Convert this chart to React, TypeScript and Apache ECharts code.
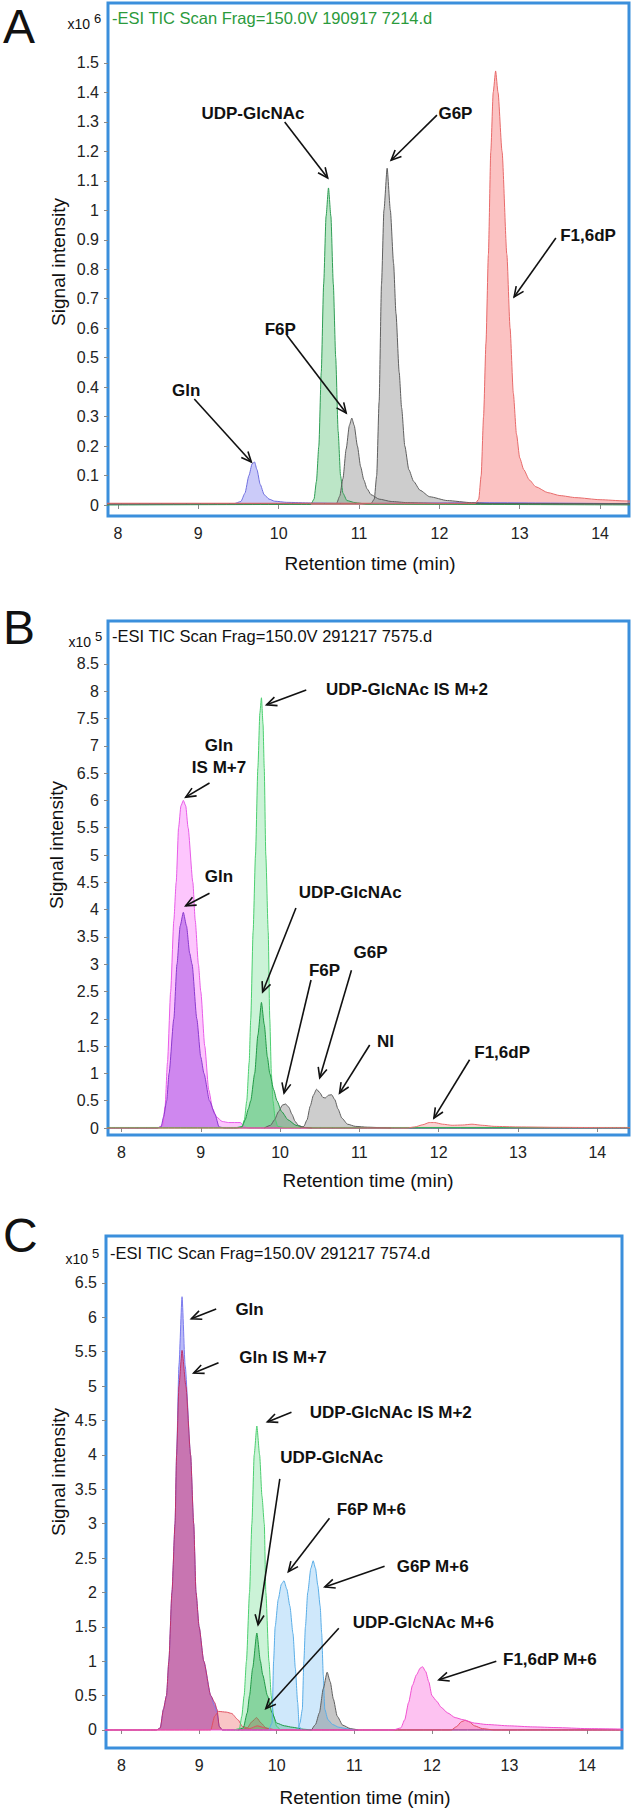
import { useEffect, useRef } from "react";
import * as echarts from "echarts";

const FONT = '"Liberation Sans", Arial, Helvetica, sans-serif';

type Pt = [number, number];

// ---------- tick labels ----------
const xTicks = [8, 9, 10, 11, 12, 13, 14];
const aTicksY = [0, 0.1, 0.2, 0.3, 0.4, 0.5, 0.6, 0.7, 0.8, 0.9, 1, 1.1, 1.2, 1.3, 1.4, 1.5];
const bTicksY = [0, 0.5, 1, 1.5, 2, 2.5, 3, 3.5, 4, 4.5, 5, 5.5, 6, 6.5, 7, 7.5, 8, 8.5];
const cTicksY = [0, 0.5, 1, 1.5, 2, 2.5, 3, 3.5, 4, 4.5, 5, 5.5, 6, 6.5];

// ---------- panel A (x10^6) ----------
const aGln: Pt[] = [[7.8,0.004],[9.45,0.005],[9.53,0.012],[9.58,0.04],[9.63,0.1],[9.67,0.14],[9.7,0.146],[9.73,0.12],[9.77,0.07],[9.82,0.035],[9.88,0.02],[9.95,0.013],[10.1,0.009],[10.4,0.007],[11.0,0.005],[12.4,0.008],[14.6,0.004]];
const aUdp: Pt[] = [[7.8,0.0],[10.4,0.002],[10.44,0.02],[10.47,0.08],[10.5,0.2],[10.53,0.45],[10.56,0.75],[10.59,0.98],[10.62,1.076],[10.65,0.98],[10.68,0.75],[10.71,0.5],[10.74,0.25],[10.77,0.1],[10.8,0.04],[10.85,0.015],[10.95,0.008],[11.1,0.003],[14.6,0.0]];
const aF6p: Pt[] = [[7.8,0.004],[10.72,0.005],[10.76,0.03],[10.8,0.09],[10.84,0.19],[10.88,0.27],[10.91,0.295],[10.94,0.27],[10.98,0.2],[11.02,0.13],[11.06,0.085],[11.1,0.055],[11.15,0.035],[11.25,0.02],[11.4,0.012],[11.6,0.008],[12.0,0.005],[14.6,0.004]];
const aG6p: Pt[] = [[7.8,0.004],[11.15,0.005],[11.19,0.02],[11.22,0.1],[11.25,0.35],[11.28,0.75],[11.31,1.0],[11.35,1.143],[11.39,1.0],[11.43,0.82],[11.46,0.65],[11.5,0.45],[11.53,0.33],[11.57,0.2],[11.62,0.12],[11.68,0.08],[11.76,0.05],[11.88,0.028],[12.1,0.015],[12.4,0.008],[12.6,0.005],[14.6,0.004]];
const aF16dp: Pt[] = [[7.8,0.006],[12.45,0.006],[12.49,0.02],[12.52,0.1],[12.55,0.3],[12.58,0.55],[12.61,0.85],[12.64,1.2],[12.67,1.4],[12.7,1.473],[12.73,1.4],[12.78,1.2],[12.84,0.85],[12.88,0.6],[12.92,0.38],[12.96,0.24],[13.0,0.16],[13.05,0.12],[13.12,0.085],[13.2,0.062],[13.35,0.042],[13.5,0.032],[13.7,0.025],[14.0,0.018],[14.3,0.014],[14.6,0.012]];

// ---------- panel B (x10^5) ----------
const bGlnIS: Pt[] = [[7.7,0],[8.45,0],[8.52,0.05],[8.55,0.4],[8.58,1.2],[8.62,2.5],[8.66,3.8],[8.69,4.5],[8.72,5.5],[8.75,5.9],[8.78,6.0],[8.81,5.9],[8.84,5.5],[8.9,4.5],[8.93,3.8],[8.97,3.0],[9.0,2.5],[9.05,1.5],[9.1,0.7],[9.15,0.35],[9.2,0.2],[9.27,0.12],[9.35,0.1],[9.5,0.1],[9.55,0.02],[9.6,0],[14.6,0]];
const bGln: Pt[] = [[7.7,0],[8.45,0],[8.5,0.02],[8.53,0.2],[8.57,0.5],[8.6,1.0],[8.66,2.0],[8.7,3.0],[8.74,3.7],[8.78,3.95],[8.82,3.7],[8.86,3.2],[8.89,3.0],[8.95,2.0],[9.0,1.3],[9.04,1.0],[9.11,0.5],[9.18,0.25],[9.23,0.02],[9.3,0],[14.6,0]];
const bUdpIS: Pt[] = [[7.7,0.01],[9.45,0.01],[9.52,0.03],[9.55,0.15],[9.58,0.5],[9.61,1.2],[9.63,2.0],[9.66,3.6],[9.69,5.0],[9.72,6.6],[9.745,7.6],[9.765,7.88],[9.785,7.4],[9.8,6.6],[9.82,5.0],[9.85,3.6],[9.87,2.0],[9.89,1.0],[9.91,0.5],[9.94,0.15],[9.97,0.03],[10.05,0.01],[14.6,0.01]];
const bUdp: Pt[] = [[7.7,0],[9.45,0],[9.52,0.02],[9.56,0.15],[9.6,0.35],[9.63,0.5],[9.68,1.0],[9.72,1.7],[9.765,2.3],[9.8,1.9],[9.84,1.3],[9.87,1.0],[9.92,0.7],[9.96,0.5],[10.02,0.3],[10.1,0.15],[10.2,0.05],[10.3,0.01],[10.4,0],[14.6,0]];
const bF6p: Pt[] = [[9.8,0],[9.88,0.05],[9.93,0.15],[9.98,0.3],[10.03,0.42],[10.07,0.44],[10.11,0.38],[10.15,0.25],[10.19,0.12],[10.23,0.05],[10.3,0.01],[10.4,0]];
const bG6pNI: Pt[] = [[10.25,0],[10.3,0.03],[10.34,0.15],[10.38,0.4],[10.42,0.6],[10.46,0.71],[10.5,0.65],[10.54,0.56],[10.57,0.55],[10.61,0.6],[10.65,0.61],[10.69,0.52],[10.73,0.35],[10.78,0.18],[10.85,0.07],[10.95,0.03],[11.1,0.015],[11.3,0.005],[11.4,0]];
const bF16dp: Pt[] = [[7.7,0],[11.6,0],[11.7,0.02],[11.8,0.06],[11.88,0.1],[11.95,0.1],[12.05,0.07],[12.17,0.05],[12.3,0.055],[12.42,0.07],[12.55,0.05],[12.7,0.03],[13.0,0.02],[13.5,0.012],[14.0,0.008],[14.6,0.005]];

// ---------- panel C (x10^5) ----------
const cGln: Pt[] = [[7.7,0],[8.45,0],[8.5,0.03],[8.54,0.3],[8.58,0.5],[8.61,1.0],[8.65,2.0],[8.69,3.0],[8.71,4.0],[8.74,5.3],[8.78,6.3],[8.82,5.3],[8.89,4.0],[8.93,3.0],[8.96,2.0],[9.0,1.5],[9.06,1.0],[9.15,0.5],[9.2,0.35],[9.23,0.25],[9.26,0.05],[9.3,0],[14.6,0]];
const cGlnIS: Pt[] = [[7.7,0],[8.45,0],[8.5,0.03],[8.54,0.3],[8.58,0.5],[8.61,1.0],[8.65,2.0],[8.69,3.0],[8.71,4.0],[8.74,5.0],[8.78,5.52],[8.83,5.0],[8.89,4.0],[8.93,3.0],[8.96,2.0],[9.0,1.5],[9.06,1.0],[9.15,0.5],[9.2,0.4],[9.23,0.3],[9.26,0.05],[9.3,0],[14.6,0]];
const cRed: Pt[] = [[7.7,0],[9.15,0],[9.2,0.2],[9.25,0.27],[9.35,0.26],[9.42,0.24],[9.5,0.15],[9.56,0.05],[9.65,0.02],[9.75,0.06],[9.85,0.03],[10.0,0],[12.25,0],[12.32,0.05],[12.38,0.12],[12.43,0.14],[12.48,0.12],[12.55,0.06],[12.65,0.02],[12.8,0],[14.6,0]];
const cUdpIS: Pt[] = [[9.45,0],[9.52,0.02],[9.55,0.2],[9.58,0.5],[9.61,1.0],[9.65,2.0],[9.68,3.0],[9.71,4.0],[9.744,4.42],[9.78,4.0],[9.81,3.4],[9.84,3.0],[9.86,2.0],[9.9,1.0],[9.93,0.5],[9.96,0.2],[10.0,0.05],[10.05,0]];
const cUdp: Pt[] = [[9.5,0],[9.57,0.03],[9.62,0.25],[9.65,0.5],[9.69,0.9],[9.744,1.41],[9.79,1.0],[9.82,0.8],[9.88,0.5],[9.94,0.25],[10.0,0.1],[10.1,0.06],[10.2,0.04],[10.35,0.01],[10.45,0]];
const cUdpM6: Pt[] = [[9.55,0],[9.62,0.03],[9.68,0.12],[9.74,0.18],[9.8,0.1],[9.86,0.03],[9.92,0]];
const cF6pM6: Pt[] = [[9.9,0],[9.94,0.1],[9.96,1.0],[9.98,1.5],[10.02,1.9],[10.06,2.12],[10.094,2.17],[10.13,2.05],[10.17,1.8],[10.21,1.4],[10.24,0.9],[10.27,0.4],[10.29,0.05],[10.32,0]];
const cG6pM6: Pt[] = [[10.27,0],[10.3,0.1],[10.33,0.3],[10.35,1.0],[10.37,1.5],[10.4,2.0],[10.44,2.35],[10.47,2.46],[10.5,2.35],[10.53,2.1],[10.56,1.8],[10.58,1.4],[10.6,0.8],[10.62,0.3],[10.66,0.15],[10.72,0.08],[10.8,0.04],[10.9,0.02],[11.0,0]];
const cGray: Pt[] = [[10.45,0],[10.5,0.08],[10.55,0.25],[10.6,0.6],[10.65,0.84],[10.69,0.7],[10.73,0.45],[10.78,0.2],[10.85,0.07],[10.95,0.02],[11.05,0]];
const cF16dpM6: Pt[] = [[7.7,0],[11.5,0],[11.6,0.03],[11.65,0.15],[11.7,0.4],[11.75,0.65],[11.8,0.8],[11.85,0.9],[11.88,0.92],[11.92,0.85],[11.96,0.7],[12.0,0.5],[12.06,0.42],[12.12,0.33],[12.2,0.25],[12.3,0.18],[12.4,0.15],[12.55,0.1],[12.7,0.08],[13.0,0.06],[13.3,0.045],[13.6,0.035],[14.0,0.02],[14.6,0.01]];

// ---------- annotations (data coordinates) ----------
type Ann = { text: string; at: Pt; from: Pt; to: Pt };
const aAnn: Ann[] = [
  { text: "UDP-GlcNAc", at: [9.68, 1.33], from: [10.075, 1.3], to: [10.61, 1.11] },
  { text: "G6P", at: [12.2, 1.33], from: [11.97, 1.323], to: [11.4, 1.17] },
  { text: "F1,6dP", at: [13.85, 0.916], from: [13.45, 0.906], to: [12.93, 0.706] },
  { text: "F6P", at: [10.02, 0.597], from: [10.1, 0.577], to: [10.84, 0.312] },
  { text: "Gln", at: [8.85, 0.39], from: [8.95, 0.36], to: [9.66, 0.146] },
];
const bAnn: Ann[] = [
  { text: "UDP-GlcNAc IS M+2", at: [11.6, 8.04], from: [10.33, 8.02], to: [9.83, 7.75] },
  { text: "Gln\nIS M+7", at: [9.23, 6.81], from: [9.11, 6.32], to: [8.81, 6.06] },
  { text: "Gln", at: [9.23, 4.6], from: [9.11, 4.3], to: [8.81, 4.07] },
  { text: "UDP-GlcNAc", at: [10.885, 4.32], from: [10.2, 4.03], to: [9.78, 2.49] },
  { text: "F6P", at: [10.56, 2.89], from: [10.39, 2.71], to: [10.05, 0.64] },
  { text: "G6P", at: [11.14, 3.21], from: [10.9, 2.89], to: [10.5, 0.92] },
  { text: "NI", at: [11.33, 1.58], from: [11.13, 1.52], to: [10.75, 0.64] },
  { text: "F1,6dP", at: [12.8, 1.39], from: [12.39, 1.25], to: [11.94, 0.18] },
];
const cAnn: Ann[] = [
  { text: "Gln", at: [9.65, 6.12], from: [9.22, 6.12], to: [8.9, 5.98] },
  { text: "Gln IS M+7", at: [10.08, 5.41], from: [9.25, 5.34], to: [8.93, 5.19] },
  { text: "UDP-GlcNAc IS M+2", at: [11.47, 4.62], from: [10.19, 4.62], to: [9.88, 4.48] },
  { text: "UDP-GlcNAc", at: [10.71, 3.96], from: [10.04, 3.65], to: [9.76, 1.53] },
  { text: "F6P M+6", at: [11.22, 3.21], from: [10.68, 3.08], to: [10.15, 2.3] },
  { text: "G6P M+6", at: [12.01, 2.38], from: [11.39, 2.38], to: [10.62, 2.08] },
  { text: "UDP-GlcNAc M+6", at: [11.89, 1.57], from: [10.8, 1.48], to: [9.86, 0.31] },
  { text: "F1,6dP M+6", at: [13.52, 1.02], from: [12.83, 1.0], to: [12.09, 0.73] },
];

const BLUE = "#3b8fdc";

function trace(name: string, data: Pt[], idx: number, line: string, fill: string, z = 2) {
  return {
    name,
    type: "line",
    xAxisIndex: idx,
    yAxisIndex: idx,
    data,
    showSymbol: false,
    symbol: "none",
    smooth: 0.2,
    smoothMonotone: "x",
    lineStyle: { color: line, width: 1 },
    areaStyle: { color: fill, origin: "auto" },
    z,
    silent: true,
  };
}

export default function App() {
  const ref = useRef<HTMLDivElement>(null);
  useEffect(() => {
    const chart = echarts.init(ref.current!, null, { renderer: "svg" });
    const grids = [
      { left: 108, top: 3, width: 521, height: 513 },
      { left: 108, top: 621, width: 521, height: 514 },
      { left: 106, top: 1236, width: 516, height: 512 },
    ];
    const xr = [[7.876, 14.36], [7.83, 14.4], [7.8, 14.45]];
    const yr = [[-0.0373, 1.7036], [-0.128, 9.286], [-0.262, 7.183]];
    const yt = [aTicksY, bTicksY, cTicksY];
    const fmt = (v: number) => String(+Number(v).toFixed(2));
    const option: any = {
      animation: false,
      backgroundColor: "#ffffff",
      grid: grids.map((g) => ({ ...g, show: true, borderColor: BLUE, borderWidth: 3, backgroundColor: "#fff", containLabel: false })),
      xAxis: grids.map((_, i) => ({
        type: "value",
        gridIndex: i,
        min: xr[i][0],
        max: xr[i][1],
        axisLine: { show: false },
        splitLine: { show: false },
        axisTick: { show: true, customValues: xTicks, length: 4, lineStyle: { color: "#888" } },
        axisLabel: { customValues: xTicks, formatter: fmt, margin: 9, fontSize: 16, color: "#222", fontFamily: FONT },
      })),
      yAxis: grids.map((_, i) => ({
        type: "value",
        gridIndex: i,
        min: yr[i][0],
        max: yr[i][1],
        axisLine: { show: false },
        splitLine: { show: false },
        axisTick: { show: true, customValues: yt[i], length: 4, lineStyle: { color: "#888" } },
        axisLabel: { customValues: yt[i], formatter: fmt, margin: 9, fontSize: 16, color: "#222", fontFamily: FONT },
      })),
      series: [
        trace("Gln", aGln, 0, "#6f6fe0", "rgba(120,120,240,0.55)"),
        trace("UDP-GlcNAc", aUdp, 0, "#2f9e55", "rgba(80,190,110,0.55)"),
        trace("F6P", aF6p, 0, "#5f5f5f", "rgba(135,135,135,0.6)"),
        trace("G6P", aG6p, 0, "#5f5f5f", "rgba(135,135,135,0.6)"),
        trace("F1,6dP", aF16dp, 0, "#e86a6a", "rgba(245,110,110,0.6)"),

        trace("Gln IS M+7", bGlnIS, 1, "#e85ce8", "rgba(250,120,250,0.6)"),
        trace("Gln", bGln, 1, "#8a3ad0", "rgba(160,70,225,0.7)"),
        trace("UDP-GlcNAc IS M+2", bUdpIS, 1, "#4ccf70", "rgba(120,225,150,0.55)"),
        trace("UDP-GlcNAc", bUdp, 1, "#1f9a45", "rgba(40,170,80,0.6)"),
        trace("F6P", bF6p, 1, "#5f5f5f", "rgba(135,135,135,0.6)"),
        trace("G6P / NI", bG6pNI, 1, "#5f5f5f", "rgba(135,135,135,0.6)"),
        trace("F1,6dP", bF16dp, 1, "#e87070", "rgba(245,130,130,0.5)"),

        trace("Gln", cGln, 2, "#7a7aee", "rgba(130,130,240,0.8)"),
        trace("Gln IS M+7", cGlnIS, 2, "#c0306a", "rgba(210,70,130,0.85)"),
        trace("F1,6dP", cRed, 2, "#e05060", "rgba(240,120,120,0.6)"),
        trace("UDP-GlcNAc IS M+2", cUdpIS, 2, "#4ccf70", "rgba(120,225,150,0.55)"),
        trace("UDP-GlcNAc", cUdp, 2, "#1f9a45", "rgba(40,170,80,0.6)"),
        trace("UDP-GlcNAc M+6", cUdpM6, 2, "#9a7a5a", "rgba(160,130,100,0.6)"),
        trace("F6P M+6", cF6pM6, 2, "#5aaee8", "rgba(140,200,245,0.6)"),
        trace("G6P M+6", cG6pM6, 2, "#5aaee8", "rgba(140,200,245,0.6)"),
        trace("unassigned", cGray, 2, "#5f5f5f", "rgba(120,120,120,0.6)"),
        trace("F1,6dP M+6", cF16dpM6, 2, "#f050d0", "rgba(250,120,225,0.65)"),
      ],
    };
    chart.setOption(option);

    const g: any[] = [];
    const txt = (text: string, x: number, y: number, size: number, extra: any = {}, el: any = {}) => {
      g.push({
        type: "text",
        x,
        y,
        z: 100,
        ...el,
        style: { text, fontSize: size, fontFamily: FONT, fill: "#111", textAlign: "left", textVerticalAlign: "middle", ...extra },
      });
    };
    // panel letters
    txt("A", 3, 26, 48);
    txt("B", 3, 627, 48);
    txt("C", 3, 1235, 48);
    // file titles
    txt("-ESI TIC Scan Frag=150.0V 190917 7214.d", 112, 18, 16.5, { fill: "#2b9a3c" });
    txt("-ESI TIC Scan Frag=150.0V 291217 7575.d", 112, 636, 16.5);
    txt("-ESI TIC Scan Frag=150.0V 291217 7574.d", 110, 1253, 16.5);
    // exponent labels
    txt("x10", 90, 24, 14, { textAlign: "right" });
    txt("6", 94, 18, 13);
    txt("x10", 91, 642, 14, { textAlign: "right" });
    txt("5", 95, 636, 13);
    txt("x10", 88, 1259, 14, { textAlign: "right" });
    txt("5", 92, 1253, 13);
    // axis titles
    txt("Retention time (min)", 370, 563, 19, { textAlign: "center" });
    txt("Retention time (min)", 368, 1180, 19, { textAlign: "center" });
    txt("Retention time (min)", 365, 1797, 19, { textAlign: "center" });
    txt("Signal intensity", 58, 262, 19, { textAlign: "center" }, { rotation: Math.PI / 2 });
    txt("Signal intensity", 56, 845, 19, { textAlign: "center" }, { rotation: Math.PI / 2 });
    txt("Signal intensity", 58, 1472, 19, { textAlign: "center" }, { rotation: Math.PI / 2 });

    // annotations
    const anns = [aAnn, bAnn, cAnn];
    anns.forEach((list, gi) => {
      list.forEach((a) => {
        const p = chart.convertToPixel({ gridIndex: gi }, a.at) as number[];
        const p0 = chart.convertToPixel({ gridIndex: gi }, a.from) as number[];
        const p1 = chart.convertToPixel({ gridIndex: gi }, a.to) as number[];
        txt(a.text, p[0], p[1], 17, { textAlign: "center", fontWeight: "bold", lineHeight: 22 });
        const dx = p1[0] - p0[0];
        const dy = p1[1] - p0[1];
        const L = Math.hypot(dx, dy) || 1;
        const ux = dx / L;
        const uy = dy / L;
        const h = 10;
        const w = 4.5;
        const bx = p1[0] - ux * h;
        const by = p1[1] - uy * h;
        g.push({
          type: "line",
          z: 100,
          shape: { x1: p0[0], y1: p0[1], x2: p1[0], y2: p1[1] },
          style: { stroke: "#111", lineWidth: 1.6 },
        });
        g.push({
          type: "polyline",
          z: 100,
          shape: { points: [[bx - uy * w, by + ux * w], [p1[0], p1[1]], [bx + uy * w, by - ux * w]] },
          style: { stroke: "#111", lineWidth: 1.6, fill: null },
        });
      });
    });
    chart.setOption({ graphic: g });
    return () => chart.dispose();
  }, []);
  return <div ref={ref} style={{ position: "absolute", left: 0, top: 0, width: 633, height: 1811 }} />;
}
